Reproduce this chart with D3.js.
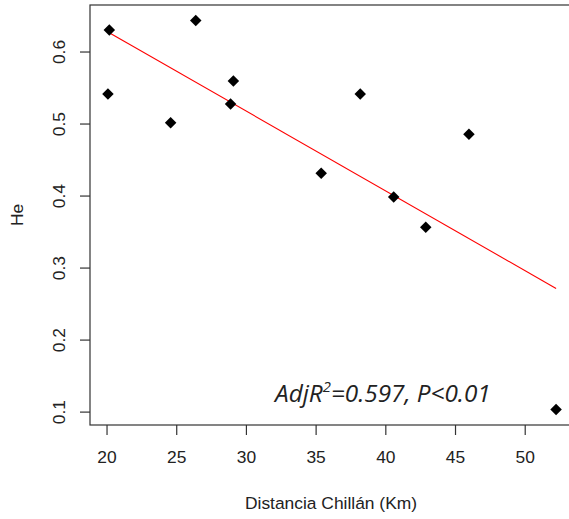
<!DOCTYPE html>
<html lang="en">
<head>
<meta charset="UTF-8">
<title>He vs distancia</title>
<script src="https://d3js.org/d3.v7.min.js"></script>
<style>
    body { margin: 0; background: #fff; }
    svg { display: block; }
    text { font-family: "Liberation Sans", Arial, sans-serif; fill: #222; }
</style>
</head>
<body>
<div class="container"></div>
<script>
    // data
    const distancia = [20.2, 20.1, 24.6, 26.4, 28.9, 29.1, 35.4, 38.2, 40.6, 42.9, 46.0, 52.25];
    const he = [0.630, 0.541, 0.501, 0.643, 0.527, 0.559, 0.431, 0.541, 0.398, 0.356, 0.485, 0.103];
    const xTicks = [20, 25, 30, 35, 40, 45, 50];
    const yTicks = [0.1, 0.2, 0.3, 0.4, 0.5, 0.6];

    const W = 569, H = 519;
    const pLeft = 90, pTop = 5, pBottom = 425, pRight = 574;

    const svg = d3.select(".container")
        .append("svg")
        .attr("width", W)
        .attr("height", H);

    // R style 4% expansion
    function expand(vals) {
        const e = d3.extent(vals), p = (e[1] - e[0]) * 0.04;
        return [e[0] - p, e[1] + p];
    }

    const x = d3.scaleLinear().domain(expand(distancia)).range([pLeft, pRight]);
    const y = d3.scaleLinear().domain(expand(he)).range([pBottom, pTop]);

    // box
    svg.append("rect")
        .attr("x", pLeft).attr("y", pTop)
        .attr("width", pRight - pLeft).attr("height", pBottom - pTop)
        .attr("fill", "none").attr("stroke", "#333").attr("stroke-width", 1.2);

    // x axis
    const xa = svg.append("g").attr("transform", `translate(0,${pBottom})`)
        .call(d3.axisBottom(x).tickValues(xTicks).tickSize(10).tickPadding(0).tickFormat(d3.format("d")));
    xa.select(".domain").remove();
    xa.selectAll("line").attr("stroke", "#333").attr("stroke-width", 1.2);
    xa.selectAll("text").attr("y", 38).attr("dy", null)
        .style("font-size", "17.4px").attr("fill", "#222");

    // y axis
    const ya = svg.append("g").attr("transform", `translate(${pLeft},0)`)
        .call(d3.axisLeft(y).tickValues(yTicks).tickSize(10).tickFormat(d3.format(".1f")));
    ya.select(".domain").remove();
    ya.selectAll("line").attr("stroke", "#333").attr("stroke-width", 1.2);
    ya.selectAll("text")
        .attr("x", null).attr("dy", null)
        .attr("text-anchor", "middle")
        .attr("dominant-baseline", "central")
        .attr("transform", "translate(-31,0) rotate(-90)")
        .style("font-size", "17.4px").attr("fill", "#222");

    // axis titles
    svg.append("text")
        .attr("x", (pLeft + pRight) / 2 - 1).attr("y", 508.5)
        .attr("text-anchor", "middle")
        .style("font-size", "17.4px")
        .text("Distancia Chillán (Km)");

    svg.append("text")
        .attr("transform", `translate(16.5,${(pTop + pBottom) / 2}) rotate(-90)`)
        .attr("text-anchor", "middle")
        .attr("dominant-baseline", "central")
        .style("font-size", "17.4px")
        .text("He");

    // least squares fit
    const mx = d3.mean(distancia), my = d3.mean(he);
    let sxy = 0, sxx = 0;
    distancia.forEach((d, i) => { sxy += (d - mx) * (he[i] - my); sxx += (d - mx) * (d - mx); });
    const b = sxy / sxx, a = my - b * mx;
    const xr = d3.extent(distancia);
    svg.append("line")
        .attr("x1", x(xr[0])).attr("y1", y(a + b * xr[0]))
        .attr("x2", x(xr[1])).attr("y2", y(a + b * xr[1]))
        .attr("stroke", "#ff0000").attr("stroke-width", 1.1);

    // points
    const sym = d3.symbol().type(d3.symbolSquare).size(66);
    svg.append("g")
        .selectAll("path")
        .data(distancia.map((d, i) => [d, he[i]]))
        .join("path")
        .attr("d", sym)
        .attr("transform", d => `translate(${x(d[0])},${y(d[1])}) rotate(45)`)
        .attr("fill", "#000");

    // annotation
    const note = svg.append("text")
        .attr("x", 0).attr("y", 0)
        .style("font-family", "'Open Sans', sans-serif")
        .style("font-style", "italic")
        .style("font-size", "23px")
        .attr("fill", "#111");
    note.append("tspan").text("AdjR");
    note.append("tspan").attr("dy", -10).style("font-size", "14px").text("2");
    note.append("tspan").attr("dy", 10).text("=0.597, P<0.01");
    const bw = note.node().getBBox().width;
    note.attr("transform", `translate(275,401.5) scale(${218 / bw},1)`);
</script>
</body>
</html>
